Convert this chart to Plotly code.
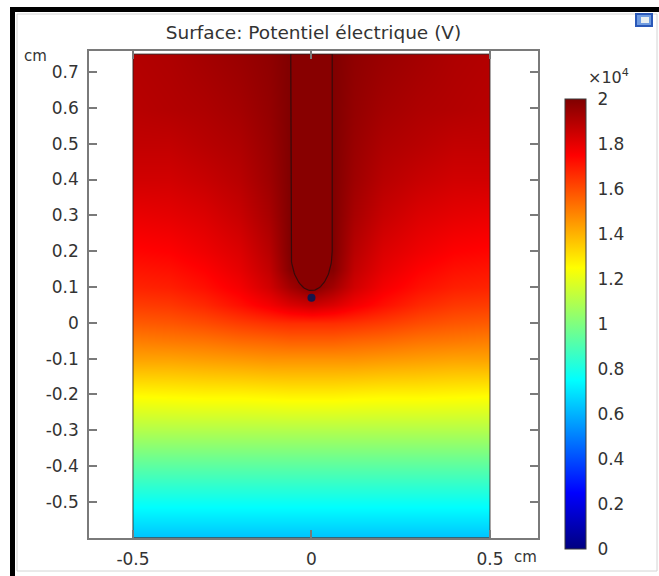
import numpy as np
import plotly.graph_objects as go

# ---- sampled potential field (V) on a coarse grid, x and y in cm ----
x_cm = [-0.5, -0.4, -0.3, -0.2, -0.12, -0.06, 0.0, 0.06, 0.12, 0.2, 0.3, 0.4, 0.5]
y_cm = [-0.6, -0.5, -0.4, -0.3, -0.2, -0.1, -0.05, 0.0, 0.05, 0.1, 0.15, 0.2,
        0.3, 0.4, 0.5, 0.6, 0.75]

potential_V = [
    [6300, 6300, 6300, 6300, 6300, 6300, 6300, 6300, 6300, 6300, 6300, 6300, 6300],
    [7700, 7700, 7700, 7700, 7700, 7700, 7700, 7700, 7700, 7700, 7700, 7700, 7700],
    [9300, 9300, 9300, 9300, 9300, 9300, 9300, 9300, 9300, 9300, 9300, 9300, 9300],
    [11000, 11000, 11000, 11000, 11000, 11000, 11000, 11000, 11000, 11000, 11000, 11000, 11000],
    [12600, 12650, 12700, 12700, 12750, 12800, 12800, 12800, 12750, 12700, 12700, 12650, 12600],
    [14300, 14300, 14400, 14500, 14600, 14600, 14600, 14600, 14600, 14500, 14400, 14300, 14300],
    [15000, 15100, 15200, 15400, 15500, 15600, 15600, 15600, 15500, 15400, 15200, 15100, 15000],
    [15700, 15800, 16000, 16300, 16500, 16600, 16600, 16600, 16500, 16300, 16000, 15800, 15700],
    [16300, 16400, 16700, 17200, 17700, 18200, 18500, 18200, 17700, 17200, 16700, 16400, 16300],
    [16800, 16900, 17200, 17700, 18400, 19300, 20000, 19300, 18400, 17700, 17200, 16900, 16800],
    [17100, 17200, 17500, 18000, 18700, 19900, 20000, 19900, 18700, 18000, 17500, 17200, 17100],
    [17400, 17500, 17800, 18200, 18900, 20000, 20000, 20000, 18900, 18200, 17800, 17500, 17400],
    [17900, 18000, 18200, 18600, 19200, 20000, 20000, 20000, 19200, 18600, 18200, 18000, 17900],
    [18400, 18400, 18600, 18900, 19400, 20000, 20000, 20000, 19400, 18900, 18600, 18400, 18400],
    [18700, 18700, 18900, 19100, 19500, 20000, 20000, 20000, 19500, 19100, 18900, 18700, 18700],
    [18900, 19000, 19100, 19300, 19600, 20000, 20000, 20000, 19600, 19300, 19100, 19000, 18900],
    [19000, 19100, 19300, 19500, 19700, 20000, 20000, 20000, 19700, 19500, 19300, 19100, 19000],
]

# geometry (cm)
domain_x = [-0.5, 0.5]
domain_y = [-0.6, 0.75]
needle_radius = 0.058
needle_tip_y = 0.09
needle_tip_height = 0.11
probe_x = [0.0]
probe_y = [0.07]

# axes and colour bar ticks
x_ticks = [-0.5, 0.0, 0.5]
x_tick_labels = ["-0.5", "0", "0.5"]
y_ticks = [-0.5, -0.4, -0.3, -0.2, -0.1, 0.0, 0.1, 0.2, 0.3, 0.4, 0.5, 0.6, 0.7]
y_tick_labels = ["-0.5", "-0.4", "-0.3", "-0.2", "-0.1", "0", "0.1", "0.2",
                 "0.3", "0.4", "0.5", "0.6", "0.7"]
cbar_ticks = [0, 2000, 4000, 6000, 8000, 10000, 12000, 14000, 16000, 18000, 20000]
cbar_labels = ["0", "0.2", "0.4", "0.6", "0.8", "1", "1.2", "1.4", "1.6", "1.8", "2"]
v_min, v_max = 0, 20000

jet = [
    [0.0, "rgb(0,0,128)"],
    [0.125, "rgb(0,0,255)"],
    [0.375, "rgb(0,255,255)"],
    [0.625, "rgb(255,255,0)"],
    [0.875, "rgb(255,0,0)"],
    [1.0, "rgb(128,0,0)"],
]

FONT = "DejaVu Sans"
TXT = "#333333"
AX = "#7a7a7a"

W, H = 659, 576
PL, PR, PT, PB = 89, 538, 51, 538  # plot area in pixels
CB_TOP, CB_BOTTOM = 99, 549        # colour bar extent in pixels


def px(xp):
    return (xp - PL) / (PR - PL)


def py(yp):
    return (PB - yp) / (PB - PT)


fig = go.Figure()

fig.add_trace(go.Contour(
    x=x_cm, y=y_cm, z=potential_V,
    colorscale=jet, zmin=v_min, zmax=v_max, zauto=False,
    contours=dict(coloring="heatmap", showlines=False),
    line=dict(width=0),
    connectgaps=False,
    hoverinfo="skip",
    colorbar=dict(
        x=px(565), xanchor="left", y=py((CB_TOP + CB_BOTTOM) / 2), yanchor="middle",
        thickness=21, thicknessmode="pixels",
        len=CB_BOTTOM - CB_TOP, lenmode="pixels", ypad=0, xpad=0,
        outlinewidth=1, outlinecolor="#3a3a3a",
        tickvals=cbar_ticks, ticktext=cbar_labels,
        ticks="outside", ticklen=8, tickcolor="rgba(0,0,0,0)",
        tickfont=dict(family=FONT, size=17, color=TXT),
    ),
))

# needle electrode: straight shank ending in an elliptical tip
yc = needle_tip_y + needle_tip_height
theta = np.linspace(np.pi, 2 * np.pi, 60)
nx = np.concatenate([[-needle_radius], needle_radius * np.cos(theta), [needle_radius]])
ny = np.concatenate([[domain_y[1]], yc + needle_tip_height * np.sin(theta), [domain_y[1]]])
fig.add_trace(go.Scatter(
    x=nx, y=ny, mode="lines", fill="toself",
    fillcolor="rgb(136,0,0)", line=dict(color="rgb(55,10,10)", width=1.2),
    hoverinfo="skip", showlegend=False,
))

# domain boundary
fig.add_trace(go.Scatter(
    x=[domain_x[0], domain_x[1], domain_x[1], domain_x[0], domain_x[0]],
    y=[domain_y[0], domain_y[0], domain_y[1], domain_y[1], domain_y[0]],
    mode="lines", line=dict(color="rgba(40,30,30,0.85)", width=1),
    hoverinfo="skip", showlegend=False,
))

# probe point below the tip
fig.add_trace(go.Scatter(
    x=probe_x, y=probe_y, mode="markers",
    marker=dict(size=8, color="rgb(22,22,75)", line=dict(width=0)),
    hoverinfo="skip", showlegend=False,
))

axis_common = dict(
    showgrid=False, zeroline=False, showline=True, linecolor=AX, linewidth=1.5,
    mirror="ticks", ticks="inside", ticklen=8, tickwidth=1.5, tickcolor=AX,
    tickfont=dict(family=FONT, size=17, color=TXT), automargin=False,
)

fig.update_xaxes(range=[-0.6232, 0.6345], tickvals=x_ticks, ticktext=x_tick_labels,
                 ticklabelstandoff=5, **axis_common)
fig.update_yaxes(range=[-0.6005, 0.7586], tickvals=y_ticks, ticktext=y_tick_labels,
                 ticklabelstandoff=5, **axis_common)

shapes = []
# panel outline and dark window frame
shapes.append(dict(type="rect", xref="paper", yref="paper",
                   x0=px(17), x1=px(657), y0=py(571), y1=py(14),
                   line=dict(color="#d4d4d4", width=1), fillcolor="rgba(0,0,0,0)",
                   layer="below"))
shapes.append(dict(type="rect", xref="paper", yref="paper",
                   x0=px(10), x1=px(15), y0=py(576), y1=py(7),
                   line=dict(width=0), fillcolor="black"))
shapes.append(dict(type="rect", xref="paper", yref="paper",
                   x0=px(10), x1=px(659), y0=py(12), y1=py(7),
                   line=dict(width=0), fillcolor="black"))
# small view icon in the corner
shapes.append(dict(type="rect", xref="paper", yref="paper",
                   x0=px(636), x1=px(652), y0=py(26), y1=py(14),
                   line=dict(color="#2a58b8", width=2), fillcolor="#6f9be0"))
shapes.append(dict(type="rect", xref="paper", yref="paper",
                   x0=px(641), x1=px(649), y0=py(23), y1=py(17),
                   line=dict(width=0), fillcolor="#e8eef0"))
# inner tick marks on both sides of the colour bar
for v in cbar_ticks[1:-1]:
    yv = py(CB_BOTTOM - (v - v_min) / (v_max - v_min) * (CB_BOTTOM - CB_TOP))
    for a, b in ((565, 569), (582, 586)):
        shapes.append(dict(type="line", xref="paper", yref="paper",
                           x0=px(a), x1=px(b), y0=yv, y1=yv,
                           line=dict(color="#2a4a40", width=1.5)))

annotations = [
    dict(text="cm", xref="paper", yref="paper", x=px(35), y=py(56),
         xanchor="center", yanchor="middle",
         showarrow=False, font=dict(family=FONT, size=15, color=TXT)),
    dict(text="cm", xref="paper", yref="paper", x=px(512), y=py(557),
         xanchor="left", yanchor="middle",
         showarrow=False, font=dict(family=FONT, size=15, color=TXT)),
    dict(text="×10<sup>4</sup>", xref="paper", yref="paper", x=px(586), y=py(76),
         xanchor="left", yanchor="middle",
         showarrow=False, font=dict(family=FONT, size=16, color=TXT)),
]

fig.update_layout(
    width=W, height=H,
    margin=dict(l=PL, r=W - PR, t=PT, b=H - PB, autoexpand=False),
    paper_bgcolor="white", plot_bgcolor="white",
    title=dict(text="Surface: Potentiel électrique (V)", x=0.5, xref="paper",
               xanchor="center", y=1 - 33 / H, yref="container", yanchor="middle",
               font=dict(family=FONT, size=18.5, color=TXT)),
    showlegend=False,
    shapes=shapes,
    annotations=annotations,
)

fig.write_html("out.html")
